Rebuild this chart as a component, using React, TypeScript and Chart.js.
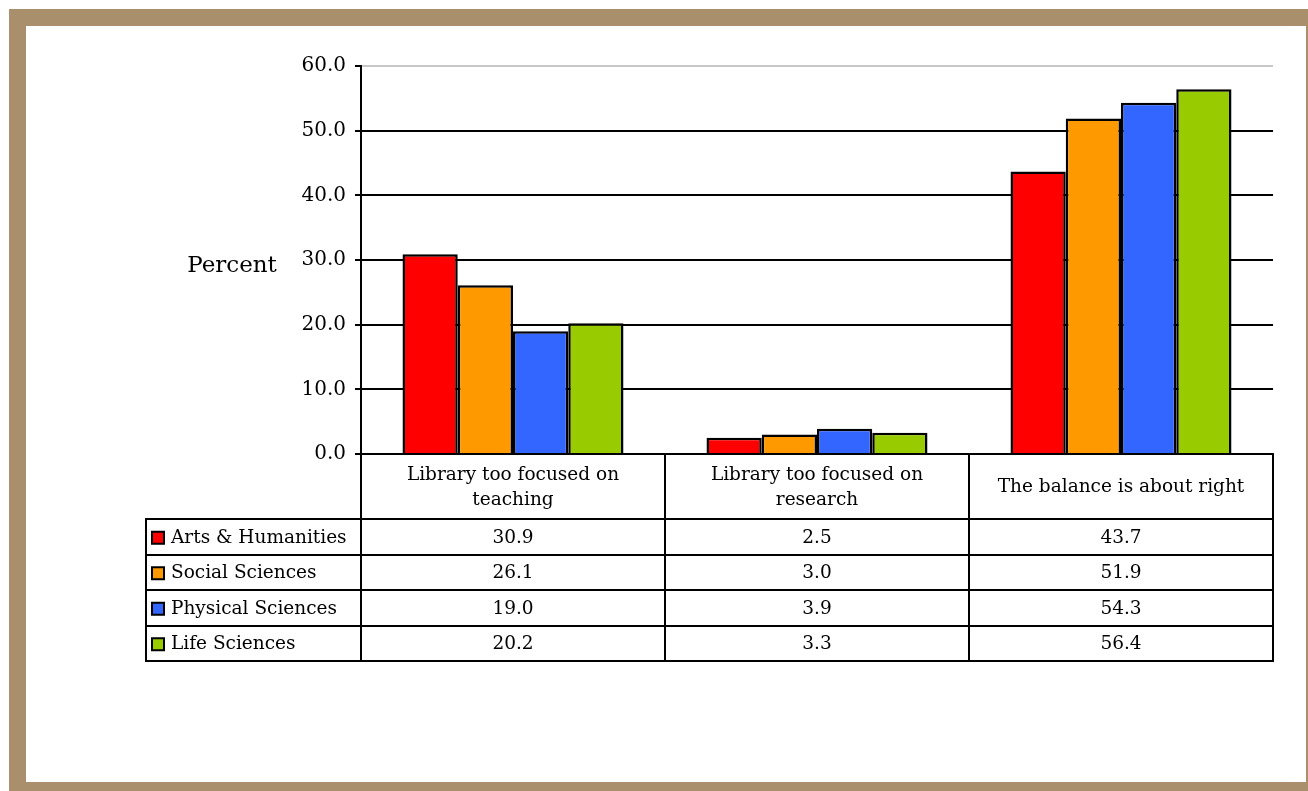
import React, { useEffect, useRef } from "react";
import { Chart, registerables } from "chart.js";

Chart.register(...registerables);

const categories: string[][] = [
  ["Library too focused on", "teaching"],
  ["Library too focused on", "research"],
  ["The balance is about right"],
];
const seriesNames = ["Arts & Humanities", "Social Sciences", "Physical Sciences", "Life Sciences"];
const seriesColors = ["#ff0000", "#ff9900", "#3366ff", "#99cc00"];
const artsHumanities = [30.9, 2.5, 43.7];
const socialSciences = [26.1, 3.0, 51.9];
const physicalSciences = [19.0, 3.9, 54.3];
const lifeSciences = [20.2, 3.3, 56.4];
const seriesValues = [artsHumanities, socialSciences, physicalSciences, lifeSciences];
const yTicks = [0, 10, 20, 30, 40, 50, 60];
const yAxisTitle = "Percent";

const FONT = "'DejaVu Serif', 'Liberation Serif', serif";

const tablePlugin = {
  id: "dataTable",
  afterDraw(chart: any) {
    const ctx: CanvasRenderingContext2D = chart.ctx;
    const ca = chart.chartArea;
    const xs = chart.scales.x;
    const n = categories.length;
    const colW = ca.width / n;
    const headerH = 65;
    const rowH = 35.5;
    const legendLeft = 120;
    const headerBottom = ca.bottom + headerH;
    const tableBottom = headerBottom + rowH * seriesNames.length;

    ctx.save();
    ctx.strokeStyle = "#000";
    ctx.lineWidth = 2;
    ctx.beginPath();
    for (let i = 0; i <= n; i++) {
      const x = Math.round(ca.left + i * colW);
      ctx.moveTo(x, ca.bottom);
      ctx.lineTo(x, tableBottom + 1);
    }
    ctx.moveTo(legendLeft, headerBottom - 1);
    ctx.lineTo(legendLeft, tableBottom + 1);
    ctx.moveTo(ca.left, ca.bottom);
    ctx.lineTo(ca.right + 1, ca.bottom);
    for (let r = 0; r <= seriesNames.length; r++) {
      const y = Math.round(headerBottom + r * rowH);
      ctx.moveTo(legendLeft - 1, y);
      ctx.lineTo(ca.right + 1, y);
    }
    ctx.stroke();

    ctx.fillStyle = "#000";
    ctx.textAlign = "center";
    ctx.textBaseline = "middle";
    ctx.font = `18.5px ${FONT}`;
    const lineGap = 25;
    categories.forEach((lines, i) => {
      const cx = xs.getPixelForValue(i);
      const cy = ca.bottom + headerH / 2 + 1;
      lines.forEach((ln, k) => {
        const y = cy + (k - (lines.length - 1) / 2) * lineGap;
        ctx.fillText(ln, cx, y);
      });
    });

    seriesNames.forEach((name, r) => {
      const cy = headerBottom + r * rowH + rowH / 2 + 1;
      ctx.fillStyle = seriesColors[r];
      ctx.fillRect(legendLeft + 6, cy - 6, 12, 12);
      ctx.strokeStyle = "#000";
      ctx.lineWidth = 2;
      ctx.strokeRect(legendLeft + 6, cy - 6, 12, 12);
      ctx.fillStyle = "#000";
      ctx.textAlign = "left";
      ctx.fillText(name, legendLeft + 25, cy);
      ctx.textAlign = "center";
      seriesValues[r].forEach((v, i) => {
        ctx.fillText(v.toFixed(1), xs.getPixelForValue(i), cy);
      });
    });

    ctx.font = `23px ${FONT}`;
    ctx.textAlign = "center";
    ctx.fillText(yAxisTitle, 206, (ca.top + ca.bottom) / 2 + 6);
    ctx.restore();
  },
};

export default function App() {
  const ref = useRef<HTMLCanvasElement>(null);
  useEffect(() => {
    if (!ref.current) return;
    const chart = new Chart(ref.current, {
      type: "bar",
      data: {
        labels: categories.map((c) => c.join(" ")),
        datasets: seriesNames.map((name, i) => ({
          label: name,
          data: seriesValues[i],
          backgroundColor: seriesColors[i],
          borderColor: "#000",
          borderWidth: 2.5,
          categoryPercentage: 0.727,
          barPercentage: 1,
        })),
      },
      options: {
        responsive: false,
        animation: false,
        layout: { padding: { left: 0, right: 33, top: 40, bottom: 328 } },
        plugins: { legend: { display: false }, tooltip: { enabled: false }, title: { display: false } },
        scales: {
          x: { type: "category", display: false },
          y: {
            min: 0,
            max: 60,
            afterFit: (s: any) => {
              s.width = 335;
            },
            afterBuildTicks: (s: any) => {
              s.ticks = yTicks.map((v) => ({ value: v }));
            },
            ticks: {
              color: "#000",
              padding: 9,
              font: { family: FONT, size: 20 },
              callback: (v: any) => Number(v).toFixed(1),
            },
            grid: {
              color: (c: any) => (c.tick && c.tick.value === 60 ? "#c8c8c8" : "#000"),
              lineWidth: 2,
              tickColor: "#000",
              tickLength: 6,
            },
            border: { display: true, color: "#000", width: 2 },
          },
        },
      },
      plugins: [tablePlugin],
    });
    return () => chart.destroy();
  }, []);

  return (
    <div style={{ position: "fixed", left: 0, top: 0, width: 1308, height: 791, overflow: "hidden", background: "#fff" }}>
      <div style={{ position: "absolute", left: 9, top: 9, width: 1320, height: 800, background: "#aa8f6c" }} />
      <div style={{ position: "absolute", left: 26, top: 26, width: 1280, height: 756, background: "#fff" }}>
        <canvas ref={ref} width={1280} height={756} style={{ display: "block" }} />
      </div>
    </div>
  );
}
